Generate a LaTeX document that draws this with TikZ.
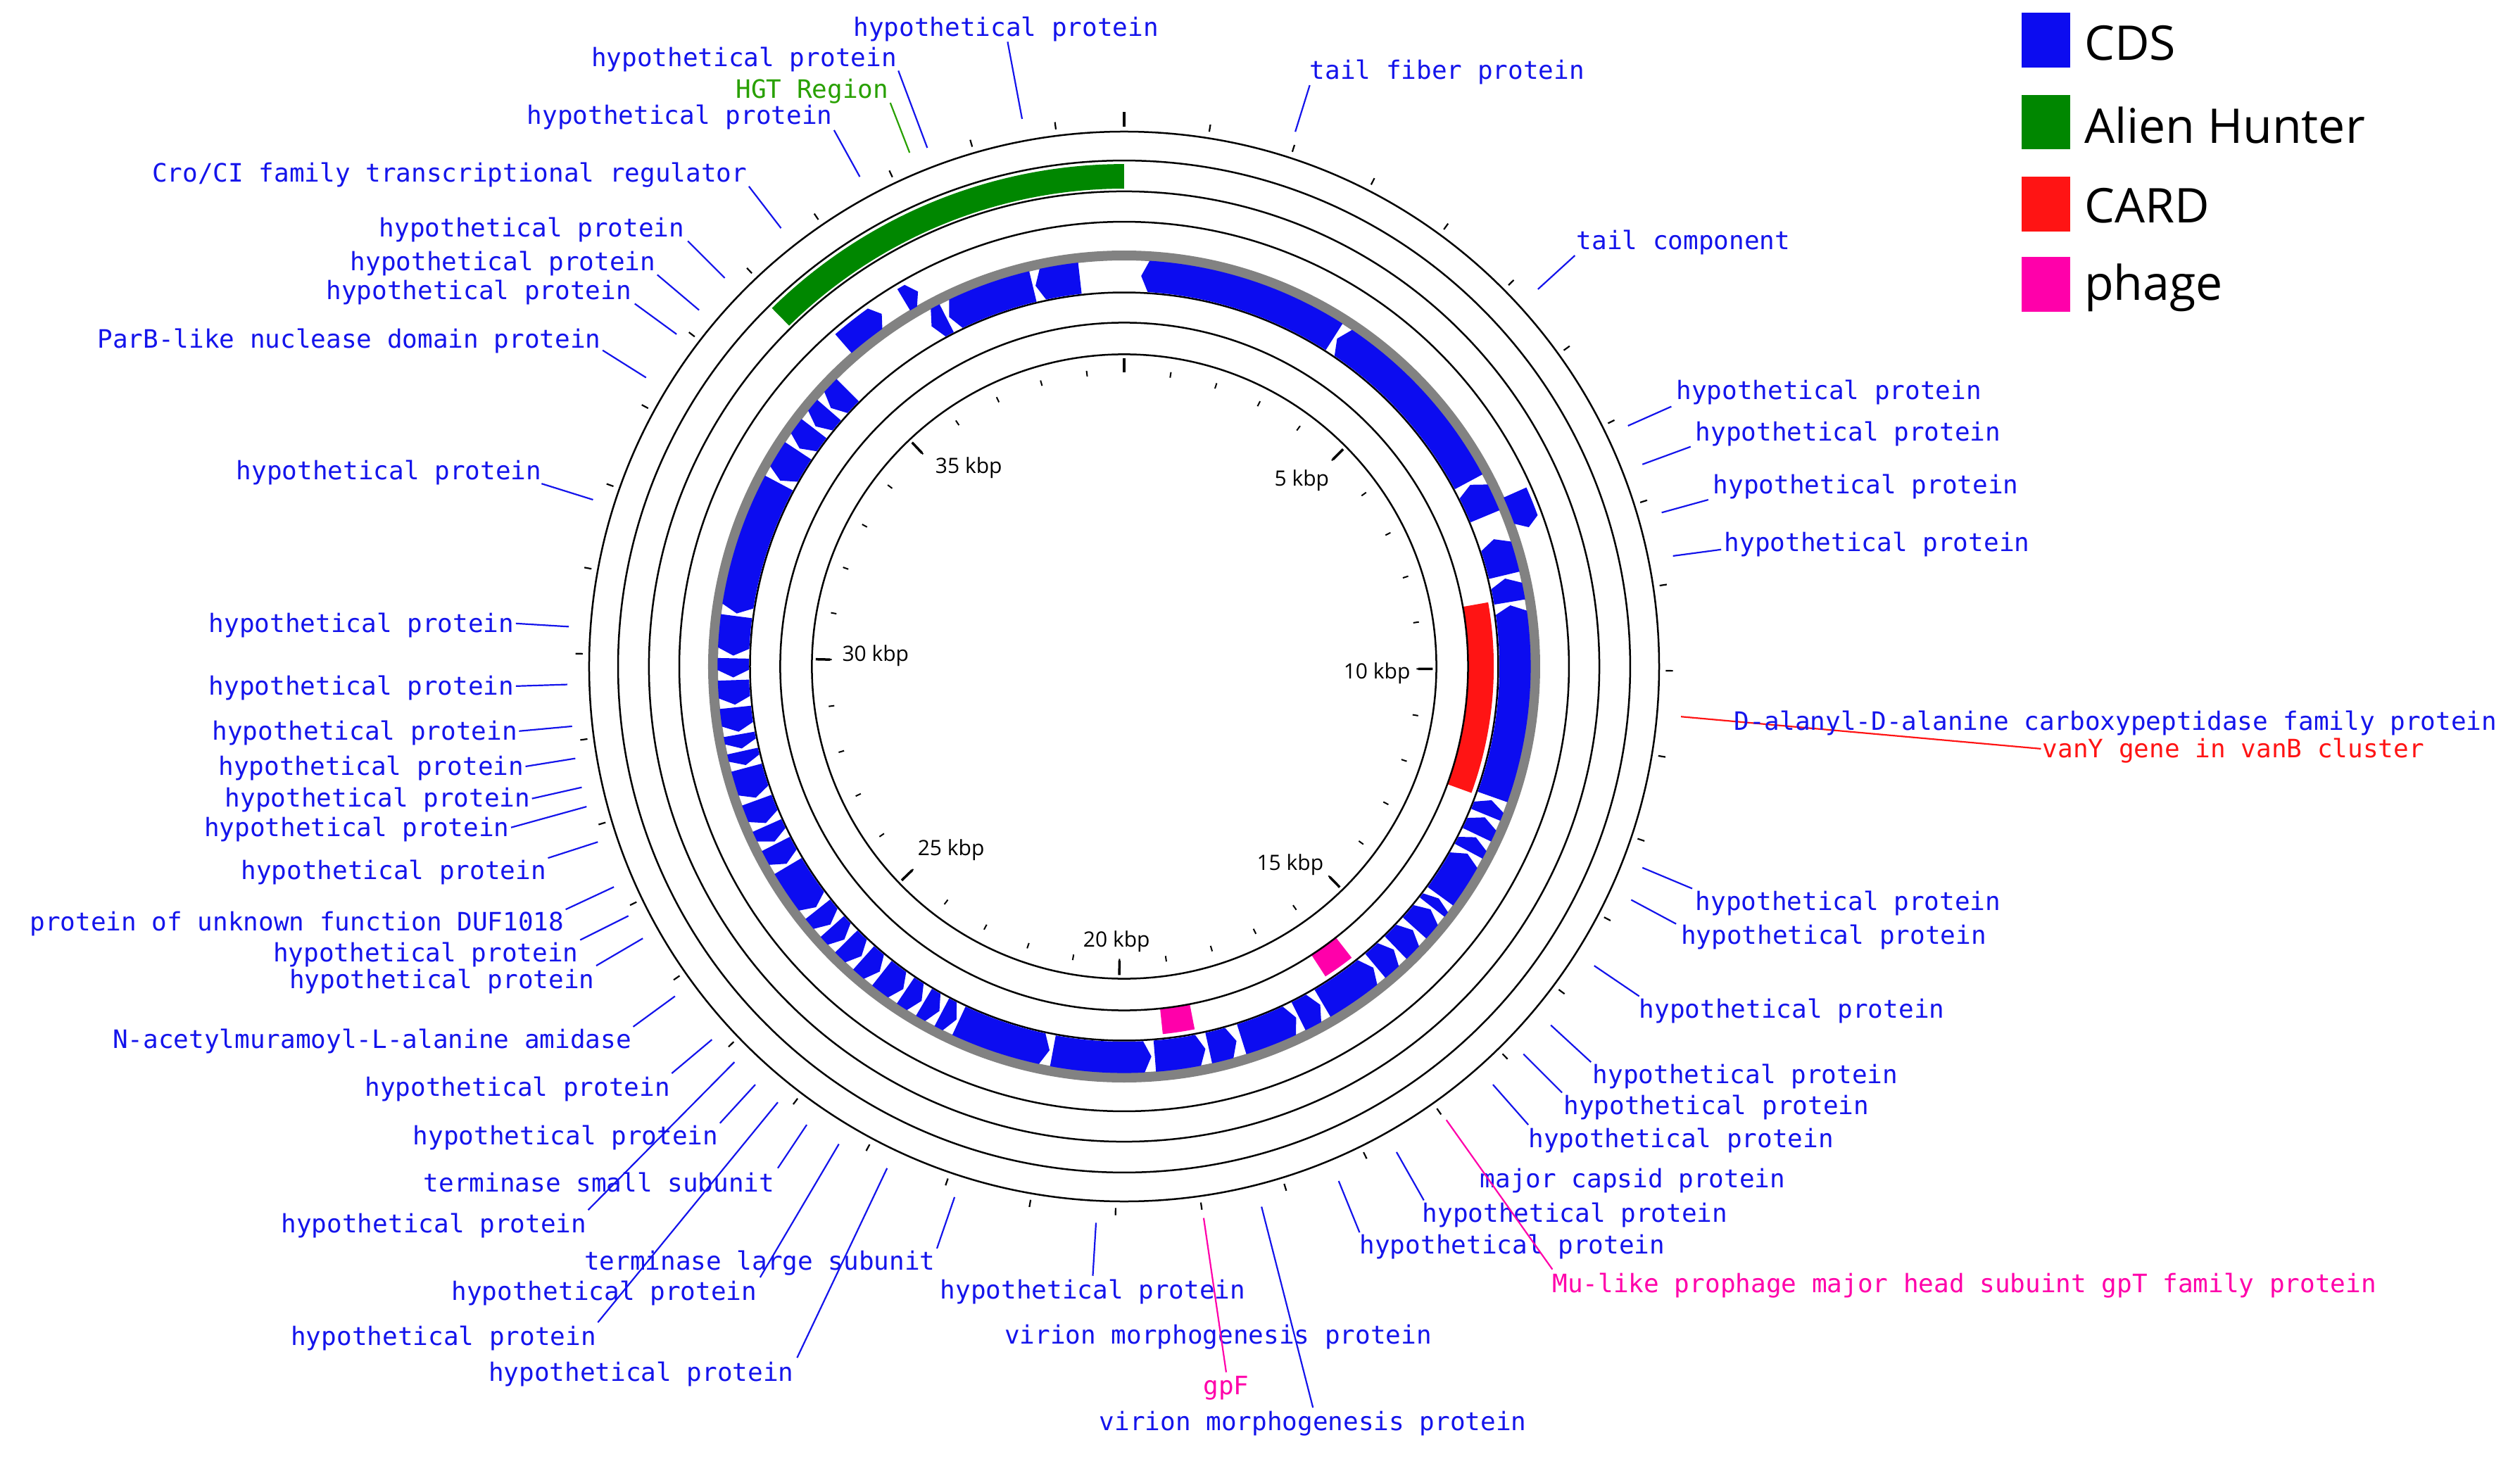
\documentclass[tikz,border=0pt]{standalone}
\usepackage{fontspec}
\setmainfont{Open Sans}
\newfontfamily\monof{DejaVu Sans Mono}
\definecolor{cblue}{RGB}{12,12,240}
\definecolor{tblue}{RGB}{20,20,235}
\definecolor{cgreen}{RGB}{0,135,0}
\definecolor{hgreen}{RGB}{40,160,0}
\definecolor{cred}{RGB}{255,20,20}
\definecolor{cpink}{RGB}{255,0,170}
\definecolor{cgrey}{RGB}{130,130,130}
\tikzset{
 lbl/.style={font=\monof\fontsize{36}{40}\selectfont,inner sep=0pt},
 kbp/.style={font=\fontsize{30}{33}\selectfont,inner sep=0pt,anchor=west},
 leg/.style={font=\fontsize{68}{74}\selectfont,inner sep=0pt,anchor=west},
 ring/.style={line width=2.5pt,black},
 lline/.style={line width=2.2pt},
}
\newcommand\gr[2]{%
 \pgfmathsetmacro\tl{min(1.1,(#2-#1)*0.5)}%
 \pgfmathsetmacro\ta{90-#1}\pgfmathsetmacro\tb{90-#1-\tl}\pgfmathsetmacro\tc{90-#2}%
 \fill[cblue] (\ta:243.3) -- (\tb:253) arc[start angle=\tb,end angle=\tc,radius=253] -- (\tc:233.5) arc[start angle=\tc,end angle=\tb,radius=233.5] -- cycle;}
\newcommand\gf[2]{%
 \pgfmathsetmacro\tl{min(1.1,(#2-#1)*0.5)}%
 \pgfmathsetmacro\ta{90-#2}\pgfmathsetmacro\tb{90-#2+\tl}\pgfmathsetmacro\tc{90-#1}%
 \fill[cblue] (\ta:266.3) -- (\tb:274) arc[start angle=\tb,end angle=\tc,radius=274] -- (\tc:258.5) arc[start angle=\tc,end angle=\tb,radius=258.5] -- cycle;}
\newcommand\band[5]{% colour, th1, th2, r1, r2
 \pgfmathsetmacro\ta{90-#2}\pgfmathsetmacro\tc{90-#3}%
 \fill[#1] (\ta:#5) arc[start angle=\ta,end angle=\tc,radius=#5] -- (\tc:#4) arc[start angle=\tc,end angle=\ta,radius=#4] -- cycle;}
\newcommand\lab[7]{%
 \coordinate (#1a) at (#3); \coordinate (#1b) at (#4);
 \node[lbl,text=#2,anchor=#6] (#1) at (#5) {#7};
 \draw[lline,#2] (#1a) -- (#1b);}
\begin{document}
\begin{tikzpicture}[x=2.283pt,y=-2.283pt]
\useasboundingbox (0,0) rectangle (1568.1,908);
\begin{scope}[shift={(699.5,414.8)},yscale=-1]
 \band{cgreen}{-44.5}{0}{297.4}{312.7}
 \band{cred}{80}{110}{214}{230}
 \band{cpink}{142}{147}{214}{230}
 \band{cpink}{169}{174}{214}{230}
 \foreach \r in {194.3,214.0,232.8,276.8,295.7,314.9,332.9} \draw[ring] (0,0) circle[radius=\r];
 \draw[cgrey,line width=14pt] (0,0) circle[radius=255.8];
 \foreach \a/\b in {2.5/32.5,33/61.8,62.3/67.4,71/76.5,77/80.5,81/109.5,110/112.3,112.7/115.5,115.9/118.2,118.6/126,126.4/128,128.4/132,132.4/136,136.4/140,140.4/149.5,149.9/153.5,153.9/162.5,163.3/167.5,168/175.5,176/190.5,191/205,205.4/207.8,208.2/210.8,211.2/214,214.4/218.3,218.7/221.8,222.2/225.3,225.7/228.3,228.7/231.6,232/239.3,239.7/243,243.4/246,246.4/250,250.4/255,255.4/257.5,257.9/260,260.4/264,264.4/268,268.4/271.2,271.6/277.4,277.8/298,298.4/303.5,303.9/307.5,307.9/311,311.4/315,330.5/333,333.4/346.5,346.9/353.5}
  {\gr{\a}{\b}}
 \gf{66}{71}\gf{319}{325.5}\gf{329}{331.2}
 \foreach \k in {1,...,39} {\draw[line width=2.2pt] ({90-\k*9.045}:337) -- ({90-\k*9.045}:341.5);}
 \draw[line width=4pt] (90:336) -- (90:345);
 \foreach \k in {1,...,39} {\draw[line width=2pt] ({90-\k*9.045}:182) -- ({90-\k*9.045}:185.5);}
 \foreach \k in {0,5,10,15,20,25,30,35} {\draw[line width=3.5pt] ({90-\k*9.045}:183) -- ({90-\k*9.045}:192);}
\end{scope}
\node[kbp] (k5) at (793,299) {5 kbp};
\node[kbp] (k10) at (836,419) {10 kbp};
\node[kbp] (k15) at (782,538) {15 kbp};
\node[kbp] (k20) at (674,586) {20 kbp};
\node[kbp] (k25) at (571,529) {25 kbp};
\node[kbp] (k30) at (524,408) {30 kbp};
\node[kbp] (k35) at (582,291) {35 kbp};
\fill[cblue] (1258,8) rectangle (1288,42);
\fill[cgreen] (1258,59) rectangle (1288,93);
\fill[cred] (1258,110) rectangle (1288,144);
\fill[cpink] (1258,160) rectangle (1288,194);
\node[leg] (lg1) at (1297,27) {CDS};
\node[leg] (lg2) at (1297,78) {Alien Hunter};
\node[leg] (lg3) at (1297,128) {CARD};
\node[leg] (lg4) at (1297,179) {phage};
\lab{t1}{tblue}{636,74}{627,26}{626,18}{center}{hypothetical protein}
\lab{t2}{tblue}{806,82}{815,53}{815,45}{west}{tail fiber protein}
\lab{t3}{tblue}{957,180}{980,159}{981,151}{west}{tail component}
\lab{r1}{tblue}{1013,265}{1040,253}{1043,244}{west}{hypothetical protein}
\lab{r2}{tblue}{1022,289}{1052,278}{1055,270}{west}{hypothetical protein}
\lab{r3}{tblue}{1034,319}{1063,311}{1066,303}{west}{hypothetical protein}
\lab{r4}{tblue}{1041,346}{1071,342}{1073,339}{west}{hypothetical protein}
\lab{r5}{cred}{1046,446}{1270,466}{1271,467}{west}{vanY gene in vanB cluster}
\node[lbl,text=tblue,anchor=west] (r6) at (1079,450) {D-alanyl-D-alanine carboxypeptidase family protein};
\lab{r7}{tblue}{1022,540}{1053,553}{1055,562}{west}{hypothetical protein}
\lab{r8}{tblue}{1015,560}{1043,575}{1046,583}{west}{hypothetical protein}
\lab{r9}{tblue}{992,601}{1020,620}{1020,629}{west}{hypothetical protein}
\lab{r10}{tblue}{965,638}{990,661}{991,670}{west}{hypothetical protein}
\lab{r11}{tblue}{948,656}{972,680}{973,689}{west}{hypothetical protein}
\lab{r12}{tblue}{929,675}{951,700}{951,710}{west}{hypothetical protein}
\node[lbl,text=tblue,anchor=west] (r13) at (921,735) {major capsid protein};
\lab{r14}{tblue}{869,717}{886,747}{885,756}{west}{hypothetical protein}
\lab{r15}{tblue}{833,735}{846,767}{846,776}{west}{hypothetical protein}
\lab{r16}{cpink}{900,697}{966,790}{966,800}{west}{Mu-like prophage major head subuint gpT family protein}
\lab{b1}{tblue}{785,751}{817,876}{817,886}{center}{virion morphogenesis protein}
\node[lbl,text=tblue,anchor=center] (b2) at (758,832) {virion morphogenesis protein};
\lab{b3}{cpink}{749,758}{763,854}{763,864}{center}{gpF}
\lab{b4}{tblue}{682,761}{680,794}{680,804}{center}{hypothetical protein}
\lab{l1}{tblue}{577,92}{559,44}{558,37}{east}{hypothetical protein}
\lab{l2}{hgreen}{566,95}{554,64}{553,57}{east}{HGT Region}
\lab{l3}{tblue}{535,110}{519,81}{518,73}{east}{hypothetical protein}
\lab{l4}{tblue}{486,142}{466,116}{465,109}{east}{Cro/CI family transcriptional regulator}
\lab{l5}{tblue}{451,173}{428,150}{426,143}{east}{hypothetical protein}
\lab{l6}{tblue}{435,193}{409,171}{408,164}{east}{hypothetical protein}
\lab{l7}{tblue}{421,208}{395,189}{393,182}{east}{hypothetical protein}
\lab{l8}{tblue}{402,235}{375,218}{374,212}{east}{ParB-like nuclease domain protein}
\lab{l9}{tblue}{369,311}{337,301}{337,294}{east}{hypothetical protein}
\lab{l10}{tblue}{354,390}{321,388}{320,389}{east}{hypothetical protein}
\lab{l11}{tblue}{353,426}{321,427}{320,428}{east}{hypothetical protein}
\lab{l12}{tblue}{356,452}{323,455}{322,456}{east}{hypothetical protein}
\lab{l13}{tblue}{358,472}{327,477}{326,478}{east}{hypothetical protein}
\lab{l14}{tblue}{362,490}{331,497}{330,498}{east}{hypothetical protein}
\lab{l15}{tblue}{365,502}{318,515}{317,516}{east}{hypothetical protein}
\lab{l16}{tblue}{372,524}{341,534}{340,543}{east}{hypothetical protein}
\lab{l17}{tblue}{382,552}{352,566}{351,575}{east}{protein of unknown function DUF1018}
\lab{l18}{tblue}{391,570}{361,585}{360,594}{east}{hypothetical protein}
\lab{l19}{tblue}{400,584}{371,601}{370,611}{east}{hypothetical protein}
\lab{l20}{tblue}{420,620}{394,639}{393,648}{east}{N-acetylmuramoyl-L-alanine amidase}
\lab{l21}{tblue}{443,647}{418,668}{417,678}{east}{hypothetical protein}
\lab{l22}{tblue}{470,675}{448,699}{447,708}{east}{hypothetical protein}
\lab{l23}{tblue}{502,700}{484,727}{482,736}{east}{terminase small subunit}
\lab{l24}{tblue}{457,661}{366,753}{365,763}{east}{hypothetical protein}
\lab{l25}{tblue}{594,745}{583,777}{582,786}{east}{terminase large subunit}
\lab{l26}{tblue}{522,712}{473,795}{471,805}{east}{hypothetical protein}
\lab{l27}{tblue}{484,686}{372,823}{371,833}{east}{hypothetical protein}
\lab{l28}{tblue}{552,727}{496,845}{494,855}{east}{hypothetical protein}
\end{tikzpicture}
\end{document}
